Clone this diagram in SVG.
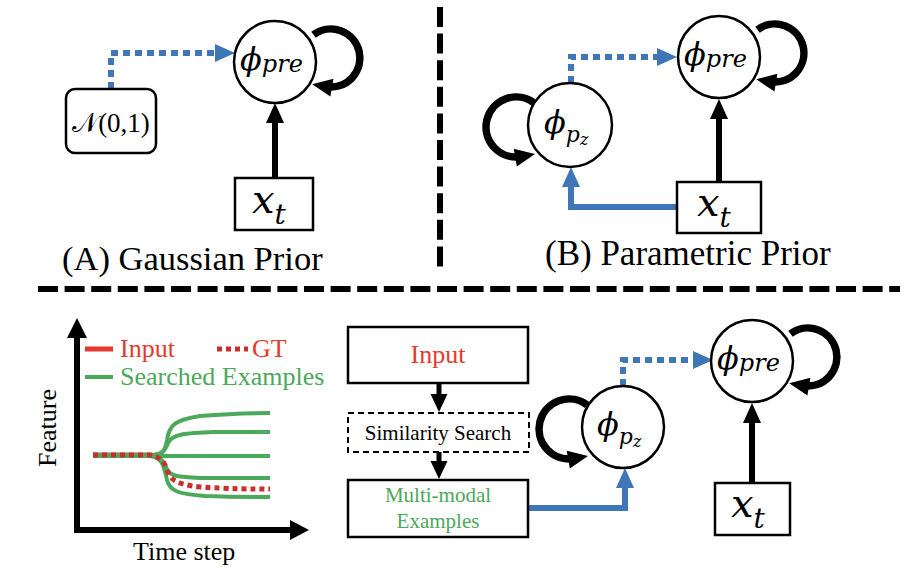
<svg xmlns="http://www.w3.org/2000/svg" width="912" height="578" viewBox="0 0 912 578">
<style>
.node{fill:#fff;stroke:#000;stroke-width:2.5}
.box{fill:#fff;stroke:#000;stroke-width:2.5}
.sep{stroke:#000;stroke-width:6;stroke-dasharray:20 6.6;fill:none}
.blk{stroke:#000;stroke-width:6;fill:none}
.flow{stroke:#000;stroke-width:5;fill:none}
.blue{stroke:#3F76B7;stroke-width:6;fill:none}
.dot{stroke:#3F76B7;stroke-width:6;stroke-dasharray:7 5;fill:none}
.loop{stroke:#000;stroke-width:7.5;fill:none}
.t{font-family:"Liberation Serif","Times New Roman",serif;fill:#000}
.m{font-family:"DejaVu Serif","Liberation Serif",serif;font-style:italic;fill:#000}
.g{stroke:#4CA85B;stroke-width:4;fill:none}
.gt{stroke:#C9302C;stroke-width:5;stroke-dasharray:5 4;fill:none}
</style>
<defs>
<marker id="ak" markerUnits="userSpaceOnUse" markerWidth="20" markerHeight="18" refX="6" refY="9" orient="auto" overflow="visible"><path d="M0,0 L20,9 L0,18 z" fill="#000"/></marker>
<marker id="ab" markerUnits="userSpaceOnUse" markerWidth="20" markerHeight="18" refX="6" refY="9" orient="auto" overflow="visible"><path d="M0,0 L20,9 L0,18 z" fill="#3F76B7"/></marker>
<marker id="as" markerUnits="userSpaceOnUse" markerWidth="18" markerHeight="17" refX="5" refY="8.5" orient="auto" overflow="visible"><path d="M0,0 L18,8.5 L0,17 z" fill="#000"/></marker>
</defs>

<!-- separators -->
<line class="sep" x1="440" y1="7" x2="440" y2="272"/>
<line class="sep" x1="38" y1="289" x2="900" y2="289"/>

<!-- connectors -->
<g id="connectors">
  <path class="dot" d="M111,89 V53 H221" marker-end="url(#ab)"/>
  <path class="blk" d="M275,178 V117" marker-end="url(#ak)"/>

  <path class="dot" d="M571,83 V57 H663" marker-end="url(#ab)"/>
  <path class="blk" d="M719,182 V113" marker-end="url(#ak)"/>
  <path class="blue" d="M677,207 H571 V181" marker-end="url(#ab)"/>

  <path class="flow" d="M439,383 V399" marker-end="url(#as)"/>
  <path class="flow" d="M439,452 V466" marker-end="url(#as)"/>
  <path class="blue" d="M528,508 H625 V482" marker-end="url(#ab)"/>
  <path class="dot" d="M623,386 V360 H699" marker-end="url(#ab)"/>
  <path class="blk" d="M752,483 V417" marker-end="url(#ak)"/>

  <!-- self loops -->
  <path class="loop" d="M313.5,34.8 A29,29 0 1 1 326,86.6" marker-end="url(#ak)"/>
  <path class="loop" d="M757.5,29.8 A29,29 0 1 1 770,81.6" marker-end="url(#ak)"/>
  <path class="loop" d="M534.1,103 A30,30 0 1 0 521.2,156.5" marker-end="url(#ak)"/>
  <path class="loop" d="M587.1,405 A30,30 0 1 0 574.2,458.5" marker-end="url(#ak)"/>
  <path class="loop" d="M790.5,333.8 A29,29 0 1 1 803,385.6" marker-end="url(#ak)"/>
</g>

<!-- Panel A -->
<g id="A-phipre">
  <circle class="node" cx="275" cy="62" r="41"/>
  <text class="m" x="240" y="70" font-size="32">ϕ<tspan font-size="24" dy="2">pre</tspan></text>
</g>
<g id="A-normal">
  <rect class="box" x="66" y="89" width="90" height="64" rx="9"/>
  <text class="t" x="111" y="132" font-size="27" text-anchor="middle">𝒩(0,1)</text>
</g>
<g id="A-xt">
  <rect class="box" x="235" y="178" width="78" height="52"/>
  <text class="m" x="252" y="213" font-size="40">x<tspan font-size="28" dy="11">t</tspan></text>
</g>
<text class="t" x="62" y="270" font-size="34.5">(A) Gaussian Prior</text>

<!-- Panel B -->
<g id="B-phipre">
  <circle class="node" cx="719" cy="57" r="41"/>
  <text class="m" x="684" y="65" font-size="32">ϕ<tspan font-size="24" dy="2">pre</tspan></text>
</g>
<g id="B-phipz">
  <circle class="node" cx="570" cy="125" r="42"/>
  <text class="m" x="544" y="133" font-size="32">ϕ<tspan font-size="22" dy="9">p</tspan><tspan font-size="16" dy="3">z</tspan></text>
</g>
<g id="B-xt">
  <rect class="box" x="677" y="182" width="84" height="51"/>
  <text class="m" x="697" y="216" font-size="40">x<tspan font-size="28" dy="11">t</tspan></text>
</g>
<text class="t" x="545" y="265" font-size="35">(B) Parametric Prior</text>

<!-- Panel C: chart -->
<g id="chart">
  <path class="blk" d="M77,533 V337"/>
  <path d="M67,338 L77,318 L87,338 z" fill="#000"/>
  <path class="blk" d="M74,530 H291"/>
  <path d="M290,520 L309,530 L290,540 z" fill="#000"/>
  <text class="t" font-size="26" text-anchor="middle" transform="translate(56,428) rotate(-90)">Feature</text>
  <text class="t" x="133" y="560" font-size="26">Time step</text>
  <line x1="85" y1="349" x2="113" y2="349" stroke="#E5392E" stroke-width="5"/>
  <text class="t" x="120" y="357" font-size="26" style="fill:#E5392E">Input</text>
  <line x1="217" y1="349" x2="248" y2="349" class="gt"/>
  <text class="t" x="252" y="357" font-size="26" style="fill:#E5392E">GT</text>
  <line x1="85" y1="377" x2="113" y2="377" class="g" stroke-width="5"/>
  <text class="t" x="120" y="385" font-size="26" style="fill:#4CA85B">Searched Examples</text>
  <path d="M93,455 H152" stroke="#E5392E" stroke-width="5" fill="none"/>
  <path class="g" d="M93,455 L150,455 C162,455 165,452 167,440 C169,425 175,420 200,416 C225,414 250,413 270,413"/>
  <path class="g" d="M150,455 C162,455 165,451 168,443 C172,434 185,433 215,432 L270,432"/>
  <path class="g" d="M93,456 L270,456"/>
  <path class="g" d="M150,456 C162,457 164,462 167,469 C170,476 178,477 200,478 L270,478"/>
  <path class="g" d="M150,456 C162,457 164,466 167,480 C170,492 180,494 205,496 C230,497 250,497 270,497"/>
  <path class="gt" d="M93,455 L148,455 C158,456 164,460 167,470 C170,480 176,484 200,487 C230,489 250,489 270,489"/>
</g>

<!-- Panel C: flow -->
<g id="C-input">
  <rect class="box" x="348" y="327" width="180" height="56"/>
  <text class="t" x="438" y="363" font-size="26" text-anchor="middle" style="fill:#E5392E">Input</text>
</g>
<g id="C-search">
  <rect x="348" y="413" width="181" height="39" fill="#fff" stroke="#000" stroke-width="2" stroke-dasharray="6 4"/>
  <text class="t" x="438" y="440" font-size="21" text-anchor="middle">Similarity Search</text>
</g>
<g id="C-examples">
  <rect class="box" x="348" y="480" width="180" height="57"/>
  <text class="t" x="438" y="502" font-size="21" text-anchor="middle" style="fill:#4CA85B">Multi-modal</text>
  <text class="t" x="438" y="528" font-size="21" text-anchor="middle" style="fill:#4CA85B">Examples</text>
</g>
<g id="C-phipz">
  <circle class="node" cx="623" cy="427" r="41"/>
  <text class="m" x="597" y="435" font-size="32">ϕ<tspan font-size="22" dy="9">p</tspan><tspan font-size="16" dy="3">z</tspan></text>
</g>
<g id="C-phipre">
  <circle class="node" cx="752" cy="361" r="41"/>
  <text class="m" x="717" y="369" font-size="32">ϕ<tspan font-size="24" dy="2">pre</tspan></text>
</g>
<g id="C-xt">
  <rect class="box" x="715" y="483" width="75" height="52"/>
  <text class="m" x="731" y="517" font-size="40">x<tspan font-size="28" dy="11">t</tspan></text>
</g>
</svg>
